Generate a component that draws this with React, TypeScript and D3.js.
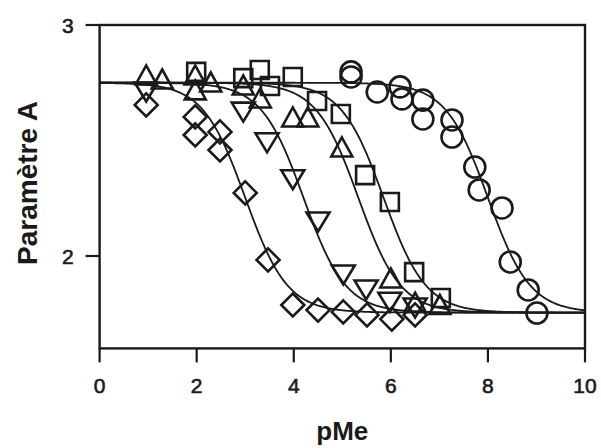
import React from "react";
import * as d3 from "d3";

// ---- data ----
const xTicks = [0, 2, 4, 6, 8, 10];
const yTicks = [2, 3];

const diamondsX = [0.96, 1.97, 1.97, 2.48, 2.48, 3.0, 3.47, 3.98, 4.5, 5.02, 5.51, 6.02, 6.5];
const diamondsY = [2.654, 2.602, 2.524, 2.537, 2.459, 2.273, 1.983, 1.788, 1.766, 1.758, 1.745, 1.727, 1.745];

const downTriX = [0.96, 2.96, 3.45, 3.98, 4.5, 5.02, 5.49, 5.98, 6.5];
const downTriY = [2.71, 2.623, 2.49, 2.33, 2.147, 1.918, 1.853, 1.8, 1.775];

const upTriX = [0.96, 1.29, 1.97, 1.97, 2.29, 2.96, 3.31, 3.98, 4.29, 4.99, 6.0, 6.5, 7.01];
const upTriY = [2.784, 2.766, 2.784, 2.719, 2.753, 2.74, 2.684, 2.602, 2.602, 2.472, 1.905, 1.8, 1.79];

const squaresX = [1.99, 2.96, 3.3, 3.51, 3.98, 4.48, 4.97, 5.47, 5.98, 6.48, 7.03];
const squaresY = [2.797, 2.77, 2.805, 2.736, 2.775, 2.671, 2.615, 2.35, 2.234, 1.93, 1.818];

const circlesX = [5.18, 5.18, 5.72, 6.19, 6.23, 6.66, 6.66, 7.26, 7.26, 7.73, 7.82, 8.29, 8.46, 8.83, 9.01];
const circlesY = [2.797, 2.775, 2.71, 2.732, 2.68, 2.675, 2.593, 2.589, 2.515, 2.385, 2.286, 2.208, 1.974, 1.853, 1.753];

// fitted curve parameters (midpoints of the fitted sigmoids)
const fitMidpoints = [3.0, 4.2, 5.33, 5.85, 8.0];
const upperPlateau = 2.75;
const lowerPlateau = 1.755;

// ---- layout ----
const W = 601;
const H = 448;
const left = 99.6;
const right = 585;
const top = 25;
const bottom = 348.4;

const x = d3.scaleLinear().domain([0, 10]).range([left, right]);
const y = d3.scaleLinear().domain([1.6, 3]).range([bottom, top]);

function sigmoid(v: number, pk: number) {
  return lowerPlateau + (upperPlateau - lowerPlateau) / (1 + Math.pow(10, v - pk));
}

const line = d3
  .line<[number, number]>()
  .x((d) => x(d[0]))
  .y((d) => y(d[1]))
  .curve(d3.curveLinear);

const sampleX = d3.range(0, 10.0001, 0.02);

function markerPath(kind: string, cx: number, cy: number): string {
  if (kind === "diamond") {
    const r = 11.5;
    return `M${cx},${cy - r}L${cx + r},${cy}L${cx},${cy + r}L${cx - r},${cy}Z`;
  }
  if (kind === "down") {
    const w = 11.5, h = 9.5;
    return `M${cx - w},${cy - h}L${cx + w},${cy - h}L${cx},${cy + h}Z`;
  }
  if (kind === "up") {
    const w = 10.5, h = 9.5;
    return `M${cx - w},${cy + h}L${cx + w},${cy + h}L${cx},${cy - h}Z`;
  }
  if (kind === "square") {
    const s = 9;
    return `M${cx - s},${cy - s}L${cx + s},${cy - s}L${cx + s},${cy + s}L${cx - s},${cy + s}Z`;
  }
  return "";
}

const seriesList = [
  { kind: "diamond", xs: diamondsX, ys: diamondsY },
  { kind: "down", xs: downTriX, ys: downTriY },
  { kind: "up", xs: upTriX, ys: upTriY },
  { kind: "square", xs: squaresX, ys: squaresY },
  { kind: "circle", xs: circlesX, ys: circlesY },
];

const font = "'Liberation Sans', Arial, Helvetica, sans-serif";
const ink = "#1a1a1a";

export default function App() {
  return (
    <svg
      width={W}
      height={H}
      style={{ position: "absolute", left: 0, top: 0, background: "#fff" }}
    >
      <rect x={0} y={0} width={W} height={H} fill="#fff" />
      {/* fitted curves */}
      {fitMidpoints.map((pk, i) => (
        <path
          key={"c" + i}
          d={line(sampleX.map((v) => [v, sigmoid(v, pk)] as [number, number])) || ""}
          fill="none"
          stroke={ink}
          strokeWidth={1.8}
        />
      ))}
      {/* frame */}
      <rect
        x={left}
        y={top}
        width={right - left}
        height={bottom - top}
        fill="none"
        stroke={ink}
        strokeWidth={2.4}
      />
      {/* y ticks */}
      {yTicks.map((t) => (
        <g key={"yt" + t}>
          <line x1={left - 14} x2={left} y1={y(t)} y2={y(t)} stroke={ink} strokeWidth={2.2} />
          <text
            x={left - 26}
            y={y(t)}
            dy="0.36em"
            textAnchor="end"
            fontFamily={font}
            fontSize={21}
            fill={ink}
            stroke={ink}
            strokeWidth={0.6}
          >
            {t}
          </text>
        </g>
      ))}
      {/* x ticks */}
      {xTicks.map((t) => (
        <g key={"xt" + t}>
          <line x1={x(t)} x2={x(t)} y1={bottom} y2={bottom + 14} stroke={ink} strokeWidth={2.2} />
          <text
            x={x(t)}
            y={393}
            textAnchor="middle"
            fontFamily={font}
            fontSize={21}
            fill={ink}
            stroke={ink}
            strokeWidth={0.6}
          >
            {t}
          </text>
        </g>
      ))}
      {/* markers */}
      {seriesList.map((s) =>
        s.xs.map((xv, i) =>
          s.kind === "circle" ? (
            <circle
              key={s.kind + i}
              cx={x(xv)}
              cy={y(s.ys[i])}
              r={10.5}
              fill="none"
              stroke={ink}
              strokeWidth={2.6}
            />
          ) : (
            <path
              key={s.kind + i}
              d={markerPath(s.kind, x(xv), y(s.ys[i]))}
              fill="none"
              stroke={ink}
              strokeWidth={2.6}
              strokeLinejoin="miter"
            />
          )
        )
      )}
      {/* axis titles */}
      <text
        x={(left + right) / 2}
        y={440}
        textAnchor="middle"
        fontFamily={font}
        fontSize={26}
        fontWeight="bold"
        fill={ink}
      >
        pMe
      </text>
      <text
        transform={`translate(37,183) rotate(-90)`}
        textAnchor="middle"
        fontFamily={font}
        fontSize={28}
        fontWeight="bold"
        fill={ink}
      >
        Paramètre A
      </text>
    </svg>
  );
}
